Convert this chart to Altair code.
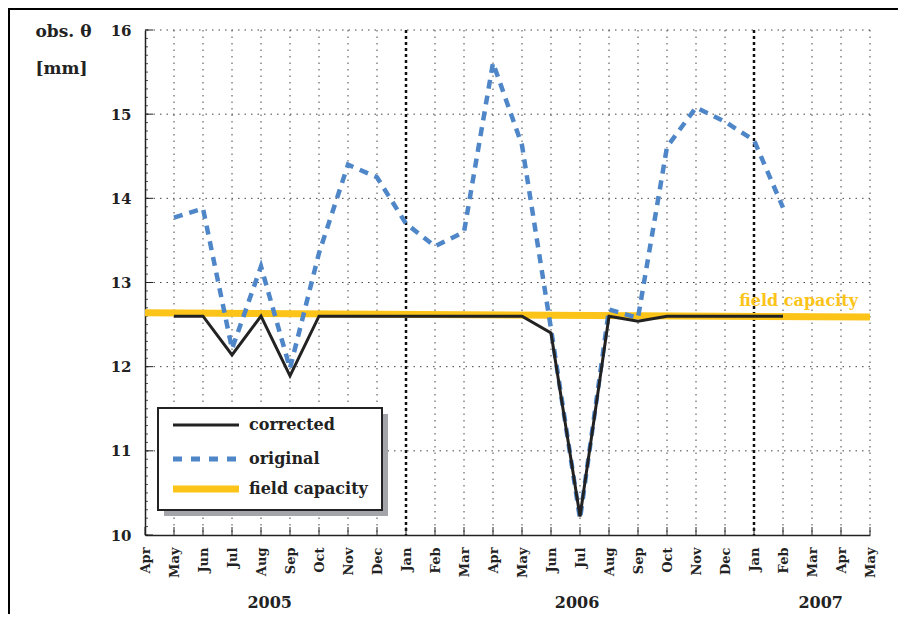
import altair as alt
import pandas as pd

# ---------------- data ----------------
month_labels = ["Apr", "May", "Jun", "Jul", "Aug", "Sep", "Oct", "Nov", "Dec",
                "Jan", "Feb", "Mar", "Apr", "May", "Jun", "Jul", "Aug", "Sep",
                "Oct", "Nov", "Dec", "Jan", "Feb", "Mar", "Apr", "May"]
series_months = list(range(1, 23))          # May 2005 .. Feb 2007 (index into month_labels)
original = [13.77, 13.88, 12.21, 13.19, 11.98, 13.35, 14.40, 14.25, 13.70, 13.43, 13.60,
            15.61, 14.63, 12.45, 10.19, 12.68, 12.58, 14.61, 15.08, 14.91, 14.69, 13.89]
corrected = [12.60, 12.60, 12.14, 12.60, 11.89, 12.60, 12.60, 12.60, 12.60, 12.60, 12.60,
             12.60, 12.60, 12.40, 10.22, 12.60, 12.54, 12.60, 12.60, 12.60, 12.60, 12.60]
fc_months = [0, 25]
fc_values = [12.64, 12.59]
year_labels = ["2005", "2006", "2007"]
year_pos = [4.3, 14.9, 23.3]
y_ticks = [10, 11, 12, 13, 14, 15, 16]
grid_y = [11, 12, 13, 14, 15, 16]
jan_months = [9, 21]
other_months = [m for m in range(1, 26) if m not in jan_months]
minor_y = [10 + k / 10 for k in range(61)]
legend_labels = ["corrected", "original", "field capacity"]

# ---------------- style ----------------
FONT = "DejaVu Serif"
BLACK = "#222222"
BLUE = "#4E86C8"
YELLOW = "#FCC419"
W, H = 725, 505

x_scale = alt.Scale(domain=[0, 25], nice=False, zero=False)
y_scale = alt.Scale(domain=[10, 16], nice=False, zero=False)

label_expr = "[" + ",".join("'%s'" % m for m in month_labels) + "][datum.value]"
x_axis = alt.Axis(values=list(range(26)), labelExpr=label_expr, labelAngle=270,
                  labelAlign="right", labelBaseline="middle", labelFont=FONT,
                  labelFontSize=13, labelFontWeight="bold", labelColor=BLACK,
                  labelPadding=12, ticks=False, grid=False, domainColor=BLACK,
                  domainWidth=1.5, title=None, labelOverlap=False)
y_axis = alt.Axis(values=y_ticks, format="d", labelFont=FONT, labelFontSize=15,
                  labelFontWeight="bold", labelColor=BLACK, labelPadding=14,
                  ticks=False, grid=False, domainColor=BLACK, domainWidth=1.5,
                  title=["obs. θ", "[mm]"], titleAngle=0, titleAlign="left",
                  titleBaseline="top", titleX=-110, titleY=-7, titleFont=FONT,
                  titleFontSize=17, titleFontWeight="bold", titleColor=BLACK,
                  titleLineHeight=37)


def X(f="x"):
    return alt.X(f, type="quantitative", scale=x_scale, axis=x_axis)


def Y(f="y"):
    return alt.Y(f, type="quantitative", scale=y_scale, axis=y_axis)


one = pd.DataFrame({"a": [0]})
df_orig = pd.DataFrame({"x": series_months, "y": original})
df_corr = pd.DataFrame({"x": series_months, "y": corrected})
df_fc = pd.DataFrame({"x": fc_months, "y": fc_values})

# gridlines
grid_v = alt.Chart(pd.DataFrame({"x": other_months})).mark_rule(
    color="#444", strokeWidth=1, strokeDash=[1.5, 5]).encode(x=X())
grid_jan = alt.Chart(pd.DataFrame({"x": jan_months})).mark_rule(
    color="#111", strokeWidth=2.5, strokeDash=[3, 3]).encode(x=X())
grid_h = alt.Chart(pd.DataFrame({"y": grid_y})).mark_rule(
    color="#444", strokeWidth=1, strokeDash=[1.5, 5]).encode(y=Y())

# inward ticks
ticks_x = alt.Chart(pd.DataFrame({"x": list(range(26))})).mark_rule(
    color=BLACK, strokeWidth=1).encode(x=X(), y=alt.value(H - 8), y2=alt.value(H))
ticks_y = alt.Chart(pd.DataFrame({"y": y_ticks})).mark_rule(
    color=BLACK, strokeWidth=1).encode(y=Y(), x=alt.value(0), x2=alt.value(8))
ticks_ym = alt.Chart(pd.DataFrame({"y": minor_y})).mark_rule(
    color=BLACK, strokeWidth=0.8).encode(y=Y(), x=alt.value(0), x2=alt.value(3))

# series
fc_line = alt.Chart(df_fc).mark_line(color=YELLOW, strokeWidth=7).encode(x=X(), y=Y())
orig_line = alt.Chart(df_orig).mark_line(color=BLUE, strokeWidth=4.5,
                                          strokeDash=[9, 7]).encode(x=X(), y=Y())
corr_line = alt.Chart(df_corr).mark_line(color=BLACK, strokeWidth=3).encode(x=X(), y=Y())

fc_label = alt.Chart(df_fc.tail(1)).mark_text(
    text="field capacity", color=YELLOW, font=FONT, fontSize=16, fontWeight="bold",
    align="right", baseline="middle", dx=-12, dy=-16).encode(x=X(), y=Y())

# year labels
years = alt.Chart(pd.DataFrame({"x": year_pos, "t": year_labels})).mark_text(
    font=FONT, fontSize=16, fontWeight="bold", color=BLACK, baseline="middle"
).encode(x=X(), y=alt.value(573), text="t:N")

# legend (decoration)
shadow = alt.Chart(one).mark_rect(color="#A3A5AB").encode(
    x=alt.value(19), x2=alt.value(243), y=alt.value(384), y2=alt.value(486))
box = alt.Chart(one).mark_rect(fill="white", stroke=BLACK, strokeWidth=2).encode(
    x=alt.value(13), x2=alt.value(237), y=alt.value(378), y2=alt.value(480))
leg_rows = [395, 429, 459]
leg1 = alt.Chart(one).mark_rule(color=BLACK, strokeWidth=3).encode(
    x=alt.value(28), x2=alt.value(94), y=alt.value(leg_rows[0]))
leg2 = alt.Chart(one).mark_rule(color=BLUE, strokeWidth=5, strokeDash=[9, 9]).encode(
    x=alt.value(28), x2=alt.value(94), y=alt.value(leg_rows[1]))
leg3 = alt.Chart(one).mark_rule(color=YELLOW, strokeWidth=7).encode(
    x=alt.value(28), x2=alt.value(94), y=alt.value(leg_rows[2]))
leg_texts = [alt.Chart(one).mark_text(text=lab, font=FONT, fontSize=16, fontWeight="bold",
                                       color=BLACK, align="left", baseline="middle").encode(
    x=alt.value(104), y=alt.value(ry)) for lab, ry in zip(legend_labels, leg_rows)]

# figure frame (top and left edges)
frame_top = alt.Chart(one).mark_rule(color="black", strokeWidth=2).encode(
    x=alt.value(-136), x2=alt.value(760), y=alt.value(-21))
frame_left = alt.Chart(one).mark_rule(color="black", strokeWidth=2).encode(
    x=alt.value(-136), y=alt.value(-22), y2=alt.value(600))

chart = alt.layer(
    grid_v, grid_jan, grid_h, ticks_x, ticks_y, ticks_ym,
    fc_line, orig_line, corr_line, fc_label, years,
    shadow, box, leg1, leg2, leg3, *leg_texts,
    frame_top, frame_left,
).properties(
    width=W, height=H,
    autosize=alt.AutoSizeParams(type="none"),
    padding={"left": 137, "top": 22, "right": 28, "bottom": 79},
    background="white",
).configure_view(stroke=None)

chart.save("out.html", embed_options={"renderer": "svg", "actions": False})
